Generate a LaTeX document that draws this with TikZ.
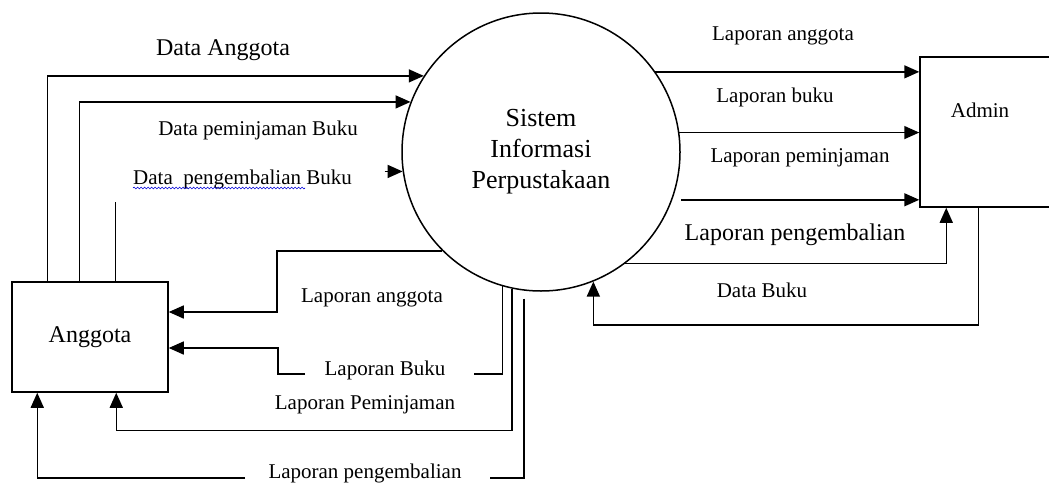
\documentclass[tikz,border=0pt]{standalone}
\usepackage{fontspec}
\setmainfont{Liberation Serif}
\usetikzlibrary{arrows.meta,decorations.pathmorphing}
\tikzset{
  ln/.style={line width=1.5pt, draw=black},
  arr/.style={ln, -{Triangle[length=15pt,width=13pt]}},
  box/.style={draw, line width=1.5pt, rectangle, inner sep=0pt},
  lbl/.style={inner sep=0pt, font=\fontsize{21}{24}\selectfont},
  biglbl/.style={inner sep=0pt, font=\fontsize{24}{28}\selectfont},
}
\begin{document}
\begin{tikzpicture}[x=1pt,y=-1pt]
\useasboundingbox (0,0) rectangle (1049,485);
\clip (0,0) rectangle (1049,485);
% entities
\node[circle, draw, line width=1.5pt, minimum size=278pt, inner sep=0pt, align=center,
      font=\fontsize{26}{31}\selectfont] (sys) at (541,152) {Sistem\\Informasi\\Perpustakaan};
\node[box, minimum width=156pt, minimum height=110pt, font=\fontsize{24}{28}\selectfont] (ang) at (90,337) {Anggota};
\node[box, minimum width=150pt, minimum height=150pt] (adm) at (995,132) {};
\node[lbl] (admtxt) at (980,110) {Admin};

% labels
\node[biglbl] (lDA) at (223,50) {Data Anggota};
\node[lbl] (lDP) at (258,130) {Data peminjaman Buku};
\node[lbl, anchor=base west] (lDK) at (133,184) {Data\ \ pengembalian Buku};
\node[lbl] (rLA) at (783,36) {Laporan anggota};
\node[lbl] (rLB) at (775,97) {Laporan buku};
\node[lbl] (rLP) at (800,158) {Laporan peminjaman};
\node[biglbl] (rLK) at (795,235) {Laporan pengembalian};
\node[lbl] (rDB) at (762,290) {Data Buku};
\node[lbl] (aLA) at (372,298) {Laporan anggota};
\node[lbl] (aLB) at (385,370) {Laporan Buku};
\node[lbl] (aLP) at (365,405) {Laporan Peminjaman};
\node[lbl] (aLK) at (365,473) {Laporan pengembalian};

% spell-check underline
\draw[blue!85!black, line width=0.6pt, decorate, decoration={snake, segment length=3.5pt, amplitude=0.9pt}]
  ([yshift=-4pt]lDK.base west) -- ([yshift=-4pt,xshift=172pt]lDK.base west);

% Anggota -> Sistem
\draw[arr] ([xshift=36pt]ang.north west) |- (sys.147.8);
\draw[arr] ([xshift=68pt]ang.north west) |- (sys.159.4);
\draw[ln] ([xshift=104pt]ang.north west) -- ++(0,-79);
\draw[arr] ([xshift=-18pt]sys.188.3) -- (sys.188.3);

% Sistem -> Admin
\draw[arr] (sys.35.1) -- (sys.35.1 -| adm.west);
\draw[arr] (sys.8.7) -- (sys.8.7 -| adm.west);
\draw[arr] ([xshift=9pt]sys.-20.2) -- (sys.-20.2 -| adm.west);
\draw[arr] (sys.-53) -| ([xshift=27pt]adm.south west);
% Admin -> Sistem
\draw[arr] ([xshift=59pt]adm.south west) -- ++(0,117) -| (sys.-68.9);

% Sistem -> Anggota
\draw[arr] (sys.225.4) -- ++(-165,0) |- ([yshift=25pt]ang.east);
\coordinate (lbE) at (474,374);
\coordinate (lbW) at (305,374);
\draw[ln] (sys.-106.3) |- (lbE);
\draw[arr] (lbW) -- ++(-27,0) |- ([yshift=-11pt]ang.east);
\draw[arr] (sys.-102) -- ++(0,142) -| ([xshift=105pt]ang.south west);
\coordinate (lkE) at (490,478);
\coordinate (lkW) at (245,478);
\draw[ln] ([yshift=-8pt]sys.-97.9) |- (lkE);
\draw[arr] (lkW) -| ([xshift=26pt]ang.south west);
\end{tikzpicture}
\end{document}
